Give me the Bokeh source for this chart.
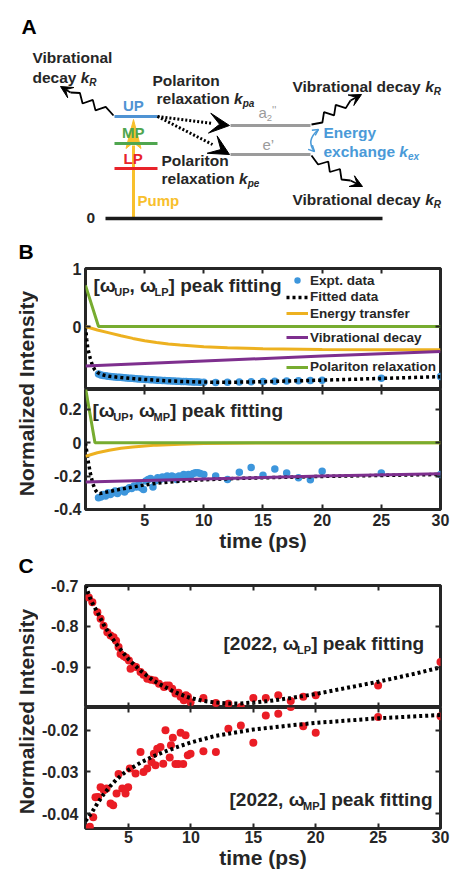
import math
from bokeh.plotting import figure
from bokeh.models import (Range1d, Label, Arrow, VeeHead, OpenHead, LinearAxis,
                          FixedTicker, CustomJSTickFormatter, Legend, LegendItem)
from bokeh.layouts import column, row
from bokeh.embed import file_html
from bokeh.resources import INLINE

FONT = "Liberation Sans"
INK = "#262626"
EXP_BLUE = "#3d96dc"
RED = "#ea1d25"
GREEN = "#77ac30"
ORANGE = "#edb120"
PURPLE = "#7e2f8e"
UP_BLUE = "#4f93d3"
MP_GREEN = "#4fa64f"
LP_RED = "#e8232a"
PUMP = "#f8c02c"
GRAY = "#9b9b9b"
EX_BLUE = "#4a9ad8"

# ---------------- panel B data ----------------
b_t = [1.1, 1.3, 1.5, 1.7, 1.9, 2.1, 2.3, 2.5, 2.7, 2.9,
       3.1, 3.3, 3.5, 3.7, 3.9, 4.1, 4.3, 4.5, 4.7, 4.9,
       5.1, 5.3, 5.5, 5.7, 5.9, 6.1, 6.3, 6.5, 6.7, 6.9,
       7.1, 7.3, 7.5, 7.7, 7.9, 8.1, 8.3, 8.5, 8.7, 8.9,
       9.1, 9.3, 9.5, 9.7, 10,
       11, 12, 13, 14, 15, 16, 17, 18, 19, 20, 25, 30]
b_top_expt = [-0.82, -0.835, -0.845, -0.85, -0.857, -0.86, -0.866, -0.869, -0.873, -0.876,
              -0.88, -0.883, -0.887, -0.89, -0.893, -0.897, -0.899, -0.903, -0.905, -0.909,
              -0.912, -0.914, -0.918, -0.92, -0.922, -0.925, -0.927, -0.93, -0.932, -0.934,
              -0.936, -0.938, -0.94, -0.942, -0.943, -0.946, -0.947, -0.95, -0.951, -0.953,
              -0.955, -0.956, -0.957, -0.959, -0.96,
              -0.965, -0.962, -0.958, -0.952, -0.948, -0.942, -0.938, -0.934, -0.93, -0.925,
              -0.89, -0.862]
b_bot_expt = [-0.33, -0.325, -0.31, -0.32, -0.30, -0.31, -0.30, -0.29, -0.305, -0.29,
              -0.285, -0.295, -0.28, -0.27, -0.275, -0.26, -0.265, -0.25, -0.27, -0.28,
              -0.23, -0.22, -0.215, -0.265, -0.23, -0.21, -0.22, -0.205, -0.215, -0.20,
              -0.21, -0.20, -0.205, -0.22, -0.20, -0.205, -0.19, -0.20, -0.19, -0.195,
              -0.185, -0.18, -0.18, -0.185, -0.19,
              -0.20, -0.22, -0.177, -0.148, -0.195, -0.157, -0.181, -0.21, -0.222, -0.171,
              -0.181, -0.19]

b_top_fit_t = [0, 0.1, 0.2, 0.4, 0.6, 0.8, 1.0, 1.2, 1.5, 2, 3, 4, 5, 6, 7, 8, 9, 10,
               12, 14, 16, 18, 20, 25, 30]
b_top_fit = [0, -0.22, -0.38, -0.55, -0.68, -0.75, -0.79, -0.815, -0.835, -0.857, -0.88,
             -0.897, -0.912, -0.926, -0.937, -0.946, -0.953, -0.958, -0.962, -0.956,
             -0.946, -0.935, -0.925, -0.895, -0.865]
b_top_energy_t = [0, 0.5, 1, 2, 3, 4, 5, 6, 7, 8, 10, 12, 15, 20, 25, 30]
b_top_energy = [0, -0.03, -0.06, -0.11, -0.16, -0.205, -0.245, -0.275, -0.30, -0.32,
                -0.35, -0.368, -0.383, -0.395, -0.399, -0.40]
b_top_vib_t = [0, 10, 20, 30]
b_top_vib = [-0.68, -0.595, -0.51, -0.43]
b_top_pol_t = [0, 1.1, 30]
b_top_pol = [0.71, 0, 0]

b_bot_fit_t = [0, 0.2, 0.4, 0.6, 0.8, 1.0, 1.2, 1.5, 2, 3, 4, 5, 6, 7, 8, 10, 12, 15,
               20, 25, 30]
b_bot_fit = [0, -0.10, -0.18, -0.24, -0.28, -0.30, -0.305, -0.30, -0.293, -0.278,
             -0.265, -0.253, -0.243, -0.236, -0.23, -0.222, -0.216, -0.21, -0.202,
             -0.196, -0.19]
b_bot_energy_t = [0, 0.5, 1, 2, 3, 4, 5, 6, 8, 10, 15, 30]
b_bot_energy = [-0.082, -0.07, -0.06, -0.045, -0.033, -0.025, -0.019, -0.014, -0.008,
                -0.004, -0.001, 0]
b_bot_vib_t = [0, 10, 20, 30]
b_bot_vib = [-0.235, -0.217, -0.200, -0.186]
b_bot_pol_t = [0, 0.8, 30]
b_bot_pol = [0.33, 0, 0]

# ---------------- panel C data ----------------
c_top_t = [1.82, 2.1, 2.5, 2.76, 3.0, 3.3, 3.56, 3.8, 4.0, 4.2,
           4.36, 4.6, 4.8, 5.03, 5.16, 5.4, 5.6, 5.96, 6.2, 6.5,
           6.8, 7.1, 7.44, 7.84, 8.0, 8.24, 8.5, 8.76, 9.0, 9.17,
           9.43, 9.6, 9.76, 9.97,
           11, 12, 13, 14, 15, 16, 17, 18, 19, 20, 25, 30]
c_top_v = [-0.729, -0.741, -0.765, -0.781, -0.798, -0.814, -0.822, -0.826, -0.835, -0.85,
           -0.867, -0.872, -0.876, -0.883, -0.903, -0.897, -0.899, -0.911, -0.918, -0.928,
           -0.930, -0.932, -0.94, -0.948, -0.944, -0.944, -0.952, -0.964, -0.962, -0.972,
           -0.98, -0.968, -0.972, -0.985,
           -0.975, -0.987, -0.989, -0.997, -0.975, -0.975, -0.968, -0.982, -0.972, -0.968,
           -0.944, -0.887]
c_bot_t = [1.9, 2.17, 2.35, 2.56, 2.76, 3.02, 3.24, 3.56, 3.77, 4.04,
           4.2, 4.5, 4.76, 4.97, 5.1, 5.56, 5.96, 6.2, 6.5, 6.84,
           7.03, 7.16, 7.3, 7.56, 7.78, 7.96, 8.3, 8.4, 8.55, 8.76,
           9.0, 9.17, 9.38, 9.57, 9.75, 9.97,
           11, 12, 13, 14, 15, 16, 17, 18, 19, 20, 25, 30]
c_bot_v = [-0.0432, -0.0409, -0.0361, -0.0360, -0.0337, -0.0344, -0.0340, -0.0376, -0.0380, -0.0352,
           -0.0305, -0.0340, -0.0352, -0.0337, -0.0292, -0.0304, -0.0252, -0.0300, -0.0292, -0.0276,
           -0.0256, -0.0284, -0.0244, -0.0240, -0.0280, -0.0200, -0.0265, -0.0236, -0.0218, -0.0281,
           -0.0281, -0.0206, -0.0281, -0.0212, -0.0260, -0.0256,
           -0.0250, -0.0252, -0.0196, -0.0188, -0.0230, -0.0164, -0.0160, -0.0144, -0.0190, -0.0206,
           -0.0168, -0.0166]
c_top_fit_t = [1.55, 2, 2.5, 3, 3.5, 4, 4.5, 5, 5.5, 6, 6.5, 7, 7.5, 8, 8.5, 9, 9.5, 10,
               11, 12, 13, 14, 15, 16, 17, 18, 20, 22, 25, 28, 30]
c_top_fit = [-0.700, -0.737, -0.765, -0.795, -0.82, -0.842, -0.862, -0.88, -0.895, -0.909,
             -0.921, -0.932, -0.941, -0.949, -0.957, -0.964, -0.970, -0.975, -0.982, -0.986,
             -0.988, -0.988, -0.986, -0.983, -0.979, -0.975, -0.965, -0.953, -0.935, -0.915,
             -0.900]
c_bot_fit_t = [1.55, 2, 2.5, 3, 3.5, 4, 4.5, 5, 6, 7, 8, 9, 10, 12, 15, 18, 20, 25, 30]
c_bot_fit = [-0.0418, -0.0400, -0.0376, -0.0354, -0.0335, -0.0319, -0.0306, -0.0295,
             -0.0277, -0.0262, -0.0250, -0.0239, -0.0229, -0.0213, -0.0198, -0.0188,
             -0.0182, -0.0171, -0.0163]

# ---------------- ticks ----------------
x_ticks = [5, 10, 15, 20, 25, 30]
b_top_yticks = [0, 1]
b_bot_yticks = [-0.4, -0.2, 0, 0.2]
c_top_yticks = [-0.9, -0.8, -0.7]
c_bot_yticks = [-0.04, -0.03, -0.02]

legend_labels = ["Expt. data", "Fitted data", "Energy transfer", "Vibrational decay",
                 "Polariton relaxation"]

# ---------------- panel A diagram geometry (page pixels) ----------------
level_x0 = [114, 114, 114, 230, 230, 105]
level_x1 = [157, 157, 157, 310, 310, 382]
level_y = [116, 143, 168, 125, 154, 218]
level_colors = [UP_BLUE, MP_GREEN, LP_RED, GRAY, GRAY, "#1a1a1a"]
level_widths = [3, 3, 3, 3, 3, 3.5]

# text width table (Arial/Liberation Sans Bold, per 1000 em)
W = {' ': 278, 'a': 556, 'b': 611, 'c': 556, 'd': 611, 'e': 556, 'f': 333, 'g': 611,
     'h': 611, 'i': 278, 'j': 278, 'k': 556, 'l': 278, 'm': 889, 'n': 611, 'o': 611,
     'p': 611, 'q': 611, 'r': 389, 's': 556, 't': 333, 'u': 611, 'v': 556, 'w': 778,
     'x': 556, 'y': 556, 'z': 500, 'A': 722, 'B': 722, 'C': 722, 'E': 667, 'I': 278,
     'L': 611, 'M': 833, 'N': 722, 'P': 667, 'R': 722, 'U': 722, 'V': 667, '[': 333,
     ']': 333, ',': 278, '.': 278, '(': 333, ')': 333, 'ω': 760, "'": 238, '’': 278}


def tw(s, size):
    return sum(W.get(ch, 556) for ch in s) * size / 1000.0


def runs(p, x, y, parts, color, units="data", down=1):
    for text, size, style, dy in parts:
        p.add_layout(Label(x=x, y=y + down * dy, x_units=units, y_units=units, text=text,
                           text_font=FONT, text_font_size=f"{size}px",
                           text_font_style=style, text_color=color,
                           text_align="left", text_baseline="middle"))
        x += tw(text, size)


def zigzag(x0, y0, x1, y1, m, amp):
    dx, dy = x1 - x0, y1 - y0
    L = (dx * dx + dy * dy) ** 0.5
    nx, ny = -dy / L, dx / L
    xs, ys = [x0], [y0]
    for i in range(m):
        f = 0.15 + 0.75 * (i + 0.5) / m
        s = amp if i % 2 == 0 else -amp
        xs.append(x0 + dx * f + nx * s)
        ys.append(y0 + dy * f + ny * s)
    xs.append(x1)
    ys.append(y1)
    return xs, ys


def blank_fig(w, h, x0, x1, y_top, y_bot):
    p = figure(width=w, height=h, x_range=Range1d(x0, x1), y_range=Range1d(y_bot, y_top),
               output_backend="svg", toolbar_location=None, min_border=0,
               x_axis_location=None, y_axis_location=None)
    p.outline_line_color = None
    p.grid.visible = False
    p.background_fill_color = "white"
    p.border_fill_color = "white"
    return p


# ================= Panel A (page y 0..238) =================
pa = blank_fig(450, 238, 0, 450, 0, 238)
pa.line([133, 133], [218, 145], line_color=PUMP, line_width=3)
pa.patch([133, 125.5, 133, 140.5], [119, 148, 142, 148], fill_color=PUMP, line_color=PUMP)
pa.segment(x0=level_x0, y0=level_y, x1=level_x1, y1=level_y, line_color=level_colors,
           line_width=level_widths)
pa.segment(x0=[157, 157], y0=[116, 116], x1=[212, 212], y1=[123, 144],
           line_color="black", line_width=3, line_dash="2 2")
for ys, ye in [(122.5, 125), (142, 154)]:
    pa.add_layout(Arrow(end=VeeHead(size=20, fill_color="black", line_color="black"),
                        x_start=208, y_start=ys, x_end=229, y_end=ye, line_alpha=0))
for (sx, sy, ex, ey, tx, ty) in [(113, 115, 70, 92, 60, 86),
                                 (311, 124, 350, 100, 361, 94),
                                 (311, 155, 350, 180, 362, 186)]:
    xs, ys = zigzag(sx, sy, ex, ey, 5, 4)
    pa.line(xs, ys, line_color="black", line_width=1.8)
    pa.add_layout(Arrow(end=VeeHead(size=12, fill_color="black", line_color="black"),
                        x_start=ex, y_start=ey, x_end=tx, y_end=ty,
                        line_color="black", line_width=1.8))
pa.quadratic(x0=[318], y0=[129], x1=[314], y1=[151], cx=[305], cy=[140],
             line_color=EX_BLUE, line_width=1.5)
pa.add_layout(Arrow(end=OpenHead(size=6, line_color=EX_BLUE, line_width=1.5),
                    x_start=312, y_start=133, x_end=318, y_end=129, line_alpha=0))
pa.add_layout(Arrow(end=OpenHead(size=6, line_color=EX_BLUE, line_width=1.5),
                    x_start=309, y_start=146, x_end=314, y_end=151, line_alpha=0))

FS = 15.5
SS = 10
runs(pa, 21, 26, [("A", 21, "bold", 0)], "black")
runs(pa, 32, 57, [("Vibrational", FS, "bold", 0)], INK)
runs(pa, 32, 77, [("decay ", FS, "bold", 0), ("k", FS, "bold italic", 0),
                  ("R", SS, "bold italic", 5)], INK)
runs(pa, 122.5, 105, [("UP", 15, "bold", 0)], UP_BLUE)
runs(pa, 121.5, 132, [("MP", 15, "bold", 0)], MP_GREEN)
runs(pa, 123, 158, [("LP", 15, "bold", 0)], LP_RED)
runs(pa, 137, 200, [("Pump", 15, "bold", 0)], PUMP)
runs(pa, 86, 217, [("0", FS, "bold", 0)], INK)
runs(pa, 152, 80, [("Polariton", FS, "bold", 0)], INK)
runs(pa, 156, 98, [("relaxation ", FS, "bold", 0), ("k", FS, "bold italic", 0),
                   ("pa", SS, "bold italic", 5)], INK)
runs(pa, 161, 160, [("Polariton", FS, "bold", 0)], INK)
runs(pa, 161, 178, [("relaxation ", FS, "bold", 0), ("k", FS, "bold italic", 0),
                    ("pe", SS, "bold italic", 5)], INK)
runs(pa, 258, 112, [("a", 15, "normal", 0), ("2", 9.5, "normal", 5),
                    ("''", 11, "normal", -3)], GRAY)
runs(pa, 262, 144, [("e’", 15, "normal", 0)], GRAY)
for yy in (86, 199):
    runs(pa, 292, yy, [("Vibrational decay ", FS, "bold", 0), ("k", FS, "bold italic", 0),
                       ("R", SS, "bold italic", 5)], INK)
runs(pa, 323, 132, [("Energy", FS, "bold", 0)], EX_BLUE)
runs(pa, 323, 151, [("exchange ", FS, "bold", 0), ("k", FS, "bold italic", 0),
                    ("ex", SS, "bold italic", 5)], EX_BLUE)


# ================= data panels =================
def fmt(dec, blank=False):
    if blank:
        return CustomJSTickFormatter(code="return '';")
    return CustomJSTickFormatter(args=dict(d=dec),
                                 code="return Math.abs(tick) < 1e-12 ? '0' : tick.toFixed(d);")


def panel(h, xr, yr, yticks, ydec, mtop, mbot, mleft, show_x, ystand, xstand=3):
    p = figure(width=412, height=h, x_range=Range1d(*xr), y_range=Range1d(*yr),
               output_backend="svg", toolbar_location=None,
               x_axis_location=None, y_axis_location=None,
               min_border_top=mtop, min_border_bottom=mbot, min_border_left=mleft,
               min_border_right=10)
    p.grid.visible = False
    p.outline_line_color = INK
    p.outline_line_width = 3
    p.background_fill_color = "white"
    p.border_fill_color = "white"
    specs = [("left", yticks, ydec, True, ystand), ("right", yticks, ydec, False, 0),
             ("below", x_ticks, 0, show_x, xstand), ("above", x_ticks, 0, False, 0)]
    for side, ticks, dec, show, stand in specs:
        ax = LinearAxis(ticker=FixedTicker(ticks=ticks), formatter=fmt(dec, not show))
        ax.axis_line_color = None
        ax.major_tick_line_color = INK
        ax.major_tick_line_width = 2
        ax.major_tick_in = 5
        ax.major_tick_out = 0
        ax.minor_tick_line_color = None
        ax.major_label_standoff = stand
        ax.major_label_text_font = FONT
        ax.major_label_text_font_style = "bold"
        ax.major_label_text_color = INK
        ax.major_label_text_font_size = "16px" if show else "0px"
        if side == "below" and show:
            ax.axis_label = "time (ps)"
            ax.axis_label_standoff = 0
            ax.axis_label_text_font = FONT
            ax.axis_label_text_font_size = "21px"
            ax.axis_label_text_font_style = "bold"
            ax.axis_label_text_color = INK
        p.add_layout(ax, side)
    return p


def dotted(p, x, y, w):
    return p.line(x, y, line_color="black", line_width=w, line_dash="3 3")


# --- B top: page y 238..389, frame 268..389, x 82..440
b1 = panel(151, (0, 30.001), (-1.086, 1.0005), b_top_yticks, 0, 30, 0, 44, False, 4)
r_exp = b1.scatter(b_t, b_top_expt, size=7.5, fill_color=EXP_BLUE, line_color=None)
r_fit = dotted(b1, b_top_fit_t, b_top_fit, 3.5)
r_en = b1.line(b_top_energy_t, b_top_energy, line_color=ORANGE, line_width=3)
r_vib = b1.line(b_top_vib_t, b_top_vib, line_color=PURPLE, line_width=3)
r_pol = b1.line(b_top_pol_t, b_top_pol, line_color=GREEN, line_width=3)
leg_centers = [280, 296.5, 313, 337, 366.5]
for lab, rr, cy in zip(legend_labels, [r_exp, r_fit, r_en, r_vib, r_pol], leg_centers):
    b1.add_layout(Legend(items=[LegendItem(label=lab, renderers=[rr])],
                         location=(201, 389 - cy - 8), padding=0, margin=0, spacing=0,
                         glyph_width=22, glyph_height=16, label_height=16, label_standoff=2,
                         background_fill_alpha=0, border_line_color=None,
                         label_text_font=FONT, label_text_font_size="13.5px",
                         label_text_font_style="bold", label_text_color=INK))
runs(b1, 8, 389 - 285, [("[ω", 19, "bold", 0), ("UP", 11, "bold", 6), (", ω", 19, "bold", 0),
                        ("LP", 11, "bold", 6), ("] peak fitting", 19, "bold", 0)],
     INK, units="screen", down=-1)

# --- B bottom: page y 389..555, frame 389..509
b2 = panel(166, (0, 30.001), (-0.4005, 0.32), b_bot_yticks, 1, 0, 46, 44, True, 4, 4)
b2.scatter(b_t, b_bot_expt, size=7.5, fill_color=EXP_BLUE, line_color=None)
dotted(b2, b_bot_fit_t, b_bot_fit, 3.5)
b2.line(b_bot_energy_t, b_bot_energy, line_color=ORANGE, line_width=3)
b2.line(b_bot_vib_t, b_bot_vib, line_color=PURPLE, line_width=3)
b2.line(b_bot_pol_t, b_bot_pol, line_color=GREEN, line_width=3)
runs(b2, 7, 509 - 410, [("[ω", 19, "bold", 0), ("UP", 11, "bold", 6), (", ω", 19, "bold", 0),
                        ("MP", 11, "bold", 6), ("] peak fitting", 19, "bold", 0)],
     INK, units="screen", down=-1)

# --- C top: page y 555..707, frame 585..707, x 85..440
c1 = panel(152, (1.55, 30.001), (-0.998, -0.6998), c_top_yticks, 1, 30, 0, 47, False, 7)
c1.scatter(c_top_t, c_top_v, size=8, fill_color=RED, line_color=None)
dotted(c1, c_top_fit_t, c_top_fit, 4)
runs(c1, 138, 707 - 643, [("[2022, ω", 19, "bold", 0), ("LP", 11, "bold", 6),
                          ("] peak fitting", 19, "bold", 0)], INK, units="screen", down=-1)

# --- C bottom: page y 707..871, frame 707..828
c2 = panel(164, (1.55, 30.001), (-0.0436, -0.0145), c_bot_yticks, 2, 0, 43, 47, True, 7, 2)
c2.scatter(c_bot_t, c_bot_v, size=8, fill_color=RED, line_color=None)
dotted(c2, c_bot_fit_t, c_bot_fit, 4)
runs(c2, 144, 828 - 799, [("[2022, ω", 19, "bold", 0), ("MP", 11, "bold", 6),
                          ("] peak fitting", 19, "bold", 0)], INK, units="screen", down=-1)

# ================= left label column (page y 238..871) =================
lab = blank_fig(38, 633, 0, 38, 238, 871)
runs(lab, 18, 251, [("B", 21, "bold", 0)], "black")
runs(lab, 18, 565, [("C", 21, "bold", 0)], "black")
for cy in (393, 711):
    lab.add_layout(Label(x=25.5, y=cy, text="Normalized Intensity", angle=math.pi / 2,
                         text_font=FONT, text_font_size="21px", text_font_style="bold",
                         text_color=INK, text_align="center", text_baseline="middle"))

layout = column(pa, row(lab, column(b1, b2, c1, c2)))
open("out.html", "w").write(file_html(layout, INLINE))
